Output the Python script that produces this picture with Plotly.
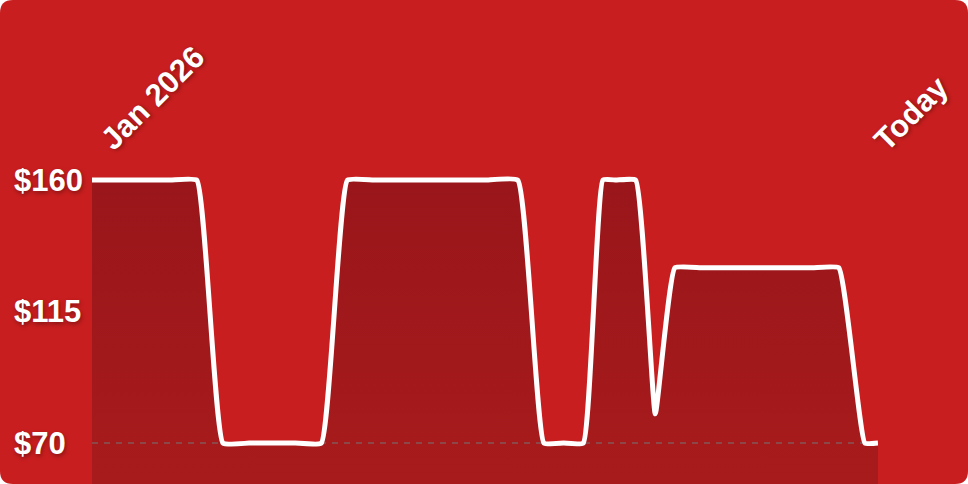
import plotly.graph_objects as go
import pandas as pd

# price history, days since Jan 1 2026
days = [0, 4, 8, 12, 16, 20, 24, 28, 31, 35, 39, 43, 47, 52, 56, 60, 65,
        69, 72, 75, 78, 80, 83, 86, 89, 93, 97, 101, 105, 110, 114, 118, 120]
prices = [160, 160, 160, 160, 160, 70, 70, 70, 70, 70, 160, 160, 160, 160, 160, 160, 160,
          70, 70, 70, 160, 160, 160, 80, 130, 130, 130, 130, 130, 130, 130, 70, 70]

tick_vals = [70, 115, 160]
tick_text = ["$70", "$115", "$160"]
start_label = "Jan 2026"
end_label = "Today"

dates = pd.Timestamp("2026-01-01") + pd.to_timedelta(days, unit="D")

W, H = 968, 484
ML, MR = 92, 90
BG = "#c91e1f"
TXT_SHADOW = "1px 2px 4px rgba(0,0,0,0.35)"
SMOOTH = 0.35


def px_x(p):
    # pixel -> paper x
    return (p - ML) / (W - ML - MR)


def px_y(p):
    return (H - p) / H


fig = go.Figure()

# area under the price line
fig.add_trace(go.Scatter(
    x=dates, y=prices,
    mode="lines",
    line=dict(width=0, shape="spline", smoothing=SMOOTH),
    fill="tozeroy",
    fillgradient=dict(
        type="vertical",
        start=56, stop=160,
        colorscale=[[0, "#a81b1c"], [1, "#99161a"]],
    ),
    hoverinfo="skip",
))

# dashed baseline at the lowest tick
fig.add_trace(go.Scatter(
    x=[dates[0], dates[-1]], y=[tick_vals[0], tick_vals[0]],
    mode="lines",
    line=dict(color="rgba(115,115,115,0.5)", width=2, dash="6px,6px"),
    hoverinfo="skip",
))

# price line
fig.add_trace(go.Scatter(
    x=dates, y=prices,
    mode="lines",
    line=dict(color="white", width=5, shape="spline", smoothing=SMOOTH),
))

# rounded card background
r = 13
rx, ry = r / (W - ML - MR), r / H
x0, x1 = px_x(0), px_x(W)
y0, y1 = px_y(H), px_y(0)
card = (
    f"M {x0 + rx} {y1} L {x1 - rx} {y1} Q {x1} {y1} {x1} {y1 - ry} "
    f"L {x1} {y0 + ry} Q {x1} {y0} {x1 - rx} {y0} "
    f"L {x0 + rx} {y0} Q {x0} {y0} {x0} {y0 + ry} "
    f"L {x0} {y1 - ry} Q {x0} {y1} {x0 + rx} {y1} Z"
)
fig.add_shape(type="path", path=card, xref="paper", yref="paper",
              fillcolor=BG, line=dict(width=0), layer="below")

label_font = dict(family="Liberation Sans, Arial, sans-serif", size=31,
                  color="white", weight="bold", shadow=TXT_SHADOW)

# y labels, left aligned
for v, t in zip(tick_vals, tick_text):
    fig.add_annotation(x=px_x(12), xref="paper", y=v, yref="y", text=t,
                       showarrow=False, xanchor="left", yanchor="middle",
                       font=label_font)

fig.add_annotation(x=px_x(152), y=px_y(98), xref="paper", yref="paper",
                   text=start_label, textangle=-45, showarrow=False,
                   xanchor="center", yanchor="middle", font=label_font)
fig.add_annotation(x=px_x(911), y=px_y(113), xref="paper", yref="paper",
                   text=end_label, textangle=-45, showarrow=False,
                   xanchor="center", yanchor="middle", font=label_font)

fig.update_xaxes(visible=False, range=[dates[0], dates[-1]])
fig.update_yaxes(visible=False, range=[56, 221.6])

fig.update_layout(
    width=W, height=H,
    margin=dict(l=ML, r=MR, t=0, b=0),
    paper_bgcolor="white",
    plot_bgcolor="rgba(0,0,0,0)",
    showlegend=False,
)

# drop the default page margin so the card fills the window
fig.write_html("out.html", config={"displayModeBar": False},
               post_script="document.body.style.margin='0';")
